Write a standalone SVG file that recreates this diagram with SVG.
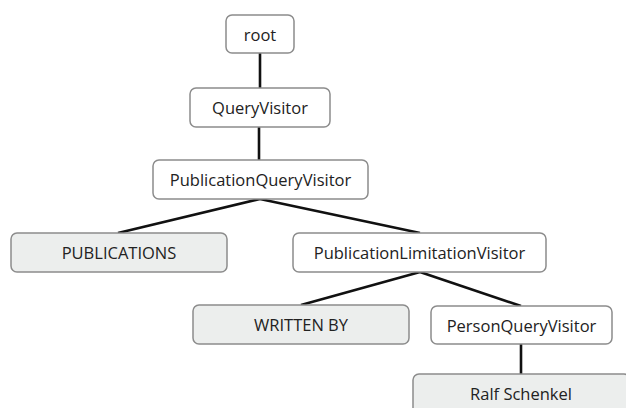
<svg xmlns="http://www.w3.org/2000/svg" width="626" height="408" viewBox="0 0 626 408">
<style>
.box{fill:#ffffff;stroke:#8c8c8c;stroke-width:1.5}
.leaf{fill:#eceeed;stroke:#8c8c8c;stroke-width:1.5}
.t{font-family:"Open Sans","Liberation Sans",sans-serif;font-size:16.5px;fill:#222;text-anchor:middle;dominant-baseline:central}
.c{stroke:#111;stroke-width:2.6;fill:none}
</style>
<rect width="626" height="408" fill="#ffffff"/>
<g id="connectors">
<line class="c" x1="260" y1="53" x2="260" y2="88"/>
<line class="c" x1="259" y1="127" x2="259" y2="160"/>
<line class="c" x1="260" y1="199" x2="118" y2="233"/>
<line class="c" x1="260" y1="199" x2="420" y2="233"/>
<line class="c" x1="420" y1="272" x2="301" y2="305"/>
<line class="c" x1="420" y1="272" x2="521" y2="306"/>
<line class="c" x1="521" y1="344" x2="521" y2="374"/>
</g>
<g id="root"><rect class="box" x="226" y="15" width="68" height="38" rx="6"/><text class="t" x="260" y="34">root</text></g>
<g id="queryvisitor"><rect class="box" x="190" y="88" width="140" height="39" rx="6"/><text class="t" x="260" y="107.5">QueryVisitor</text></g>
<g id="publicationqueryvisitor"><rect class="box" x="153" y="160" width="215" height="39" rx="6"/><text class="t" x="260.5" y="179.5">PublicationQueryVisitor</text></g>
<g id="publications"><rect class="leaf" x="11" y="233" width="216" height="39" rx="6"/><text class="t" x="119" y="252.5">PUBLICATIONS</text></g>
<g id="publicationlimitationvisitor"><rect class="box" x="293" y="233" width="253" height="39" rx="6"/><text class="t" x="419.5" y="252.5">PublicationLimitationVisitor</text></g>
<g id="writtenby"><rect class="leaf" x="193" y="305" width="216" height="39" rx="6"/><text class="t" x="301" y="324.5">WRITTEN BY</text></g>
<g id="personqueryvisitor"><rect class="box" x="431" y="306" width="181" height="38" rx="6"/><text class="t" x="521.5" y="325">PersonQueryVisitor</text></g>
<g id="ralfschenkel"><rect class="leaf" x="413" y="374" width="217" height="40" rx="6"/><text class="t" x="521" y="393">Ralf Schenkel</text></g>
</svg>
